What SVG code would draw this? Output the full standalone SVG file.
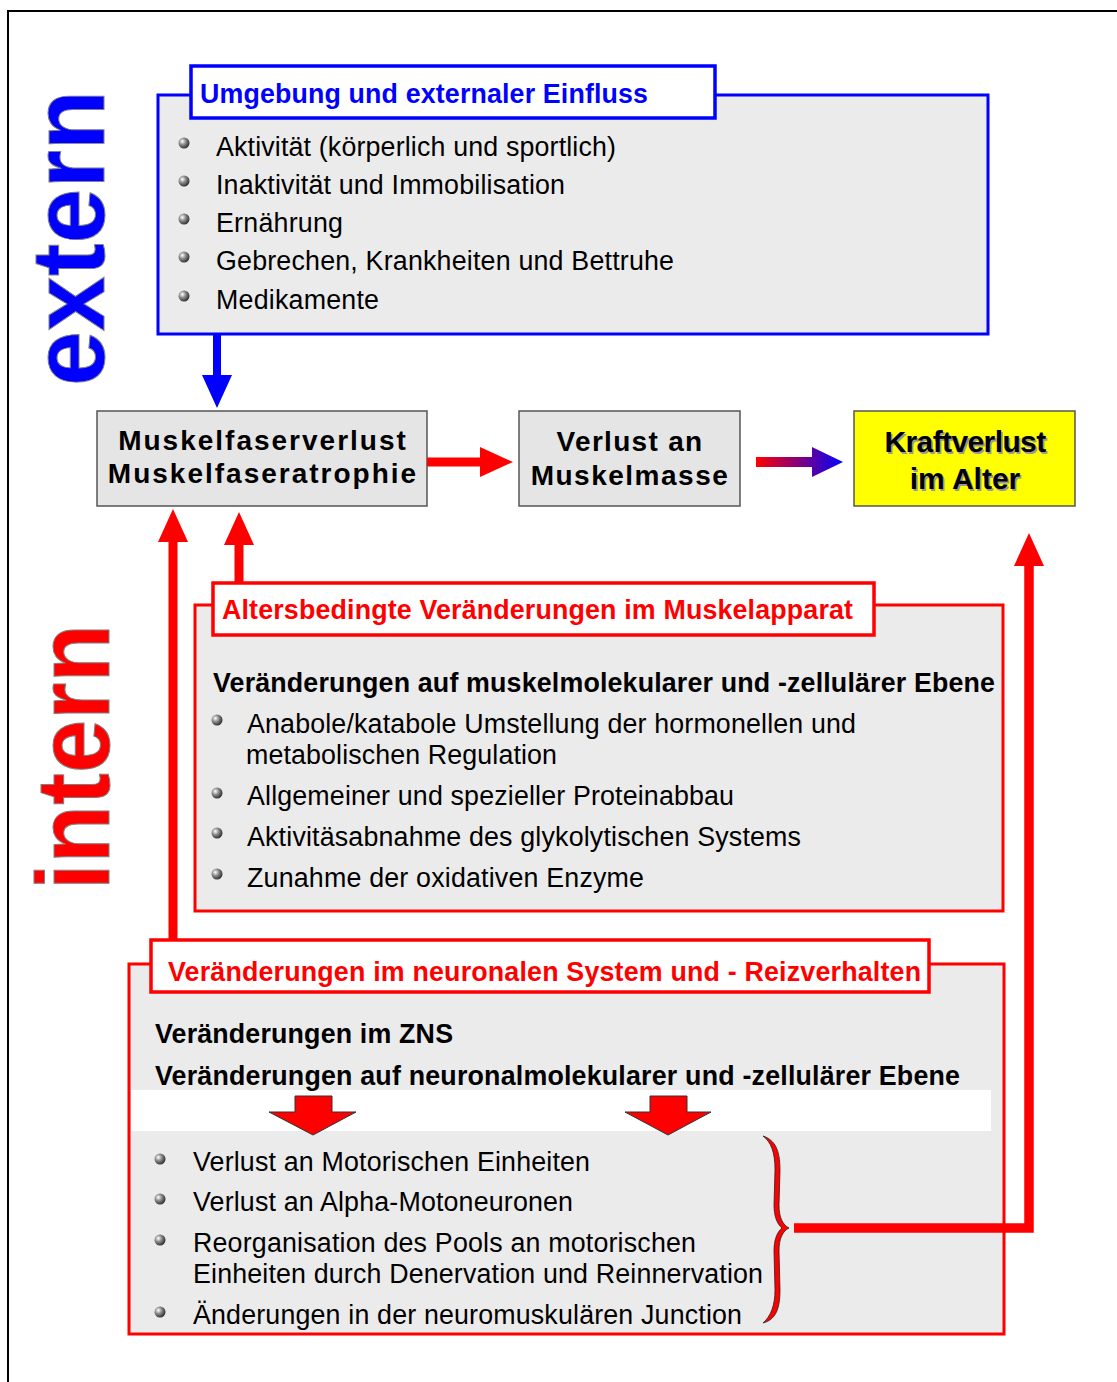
<svg xmlns="http://www.w3.org/2000/svg" width="1117" height="1382" viewBox="0 0 1117 1382">
  <defs>
    <style>
      text { font-family: "Liberation Sans", Arial, sans-serif; }
      .item { font-size: 26.8px; fill: #000; }
      .head { font-size: 26.8px; font-weight: bold; fill: #000; }
      .ttl-b { font-size: 26.8px; font-weight: bold; fill: #0000ff; }
      .ttl-r { font-size: 26.8px; font-weight: bold; fill: #ff0000; }
      .node { font-size: 28px; font-weight: bold; fill: #000; text-anchor: middle; }
      .panel { fill: #ebebeb; stroke-width: 3; }
      .tab { fill: #ffffff; stroke-width: 3.5; }
      .blue { stroke: #0000ff; }
      .red { stroke: #ff0000; }
      .box { fill: #e5e5e5; stroke: #555; stroke-width: 1.5; }
      .big { font-size: 104px; font-weight: bold; stroke: #808080; stroke-width: 1; }
    </style>
    <radialGradient id="ball" cx="0.35" cy="0.35" r="0.7">
      <stop offset="0" stop-color="#ffffff"/>
      <stop offset="0.45" stop-color="#8a8a8a"/>
      <stop offset="1" stop-color="#2a2a2a"/>
    </radialGradient>
    <linearGradient id="redblue" gradientUnits="userSpaceOnUse" x1="756" y1="0" x2="843" y2="0">
      <stop offset="0" stop-color="#ff0000"/>
      <stop offset="1" stop-color="#0000ff"/>
    </linearGradient>
    <marker id="headR" markerUnits="userSpaceOnUse" viewBox="0 0 33 30" refX="0" refY="15" markerWidth="33" markerHeight="30" orient="auto">
      <path d="M0,0 L33,15 L0,30 Z" fill="#ff0000"/>
    </marker>
    <marker id="headB" markerUnits="userSpaceOnUse" viewBox="0 0 33 30" refX="0" refY="15" markerWidth="33" markerHeight="30" orient="auto">
      <path d="M0,0 L33,15 L0,30 Z" fill="#0000ff"/>
    </marker>
    <circle id="dot" r="5.5" fill="url(#ball)"/>
  </defs>

  <rect width="1117" height="1382" fill="#ffffff"/>
  <!-- page frame -->
  <rect x="8" y="11" width="1200" height="1500" fill="none" stroke="#000" stroke-width="2"/>

  <!-- side labels -->
  <text class="big" fill="#0000ff" transform="translate(104,386) rotate(-90)" textLength="296" lengthAdjust="spacingAndGlyphs">extern</text>
  <text class="big" fill="#ff0000" transform="translate(109,890) rotate(-90)" textLength="266" lengthAdjust="spacingAndGlyphs">intern</text>

  <!-- external influences -->
  <g id="extern-panel">
    <rect class="panel blue" x="158" y="95" width="830" height="239"/>
    <rect class="tab blue" x="191" y="66" width="524" height="52"/>
    <text class="ttl-b" x="200" y="103" textLength="448">Umgebung und externaler Einfluss</text>
    <use href="#dot" x="184" y="143"/>
    <use href="#dot" x="184" y="181"/>
    <use href="#dot" x="184" y="219"/>
    <use href="#dot" x="184" y="257"/>
    <use href="#dot" x="184" y="296"/>
    <text class="item" x="216" y="156" textLength="400">Aktivität (körperlich und sportlich)</text>
    <text class="item" x="216" y="194" textLength="349">Inaktivität und Immobilisation</text>
    <text class="item" x="216" y="232" textLength="127">Ernährung</text>
    <text class="item" x="216" y="270" textLength="458">Gebrechen, Krankheiten und Bettruhe</text>
    <text class="item" x="216" y="309" textLength="163">Medikamente</text>
  </g>

  <!-- main chain -->
  <g id="fiber">
    <rect class="box" x="97" y="411" width="330" height="95"/>
    <text class="node" x="263" y="450" letter-spacing="2">Muskelfaserverlust</text>
    <text class="node" x="263" y="483" letter-spacing="2">Muskelfaseratrophie</text>
  </g>
  <g id="mass">
    <rect class="box" x="519" y="411" width="221" height="95"/>
    <text class="node" x="630" y="451" letter-spacing="1.3">Verlust an</text>
    <text class="node" x="630" y="485" letter-spacing="1.5">Muskelmasse</text>
  </g>
  <g id="strength">
    <rect x="854" y="411" width="221" height="95" fill="#ffff00" stroke="#555" stroke-width="1.5"/>
    <g font-size="30" font-weight="bold" text-anchor="middle">
      <text x="966.5" y="453.5" fill="#999" letter-spacing="-0.6">Kraftverlust</text>
      <text x="966.5" y="490.5" fill="#999">im Alter</text>
      <text x="965" y="452" fill="#000" letter-spacing="-0.6">Kraftverlust</text>
      <text x="965" y="489" fill="#000">im Alter</text>
    </g>
  </g>

  <!-- age-related muscular changes -->
  <g id="muscle-panel">
    <rect class="panel red" x="195" y="605" width="808" height="306"/>
    <rect class="tab red" x="213" y="583" width="661" height="52"/>
    <text class="ttl-r" x="222" y="619" textLength="631">Altersbedingte Veränderungen im Muskelapparat</text>
    <text class="head" x="213" y="692" textLength="782">Veränderungen auf muskelmolekularer und -zellulärer Ebene</text>
    <use href="#dot" x="217" y="720"/>
    <use href="#dot" x="217" y="793"/>
    <use href="#dot" x="217" y="833"/>
    <use href="#dot" x="217" y="874"/>
    <text class="item" x="247" y="733" textLength="609">Anabole/katabole Umstellung der hormonellen und</text>
    <text class="item" x="246" y="764" textLength="311">metabolischen Regulation</text>
    <text class="item" x="247" y="805" textLength="487">Allgemeiner und spezieller Proteinabbau</text>
    <text class="item" x="247" y="846" textLength="554">Aktivitäsabnahme des glykolytischen Systems</text>
    <text class="item" x="247" y="887" textLength="397">Zunahme der oxidativen Enzyme</text>
  </g>

  <!-- neural changes -->
  <g id="neural-panel">
    <rect class="panel red" x="129" y="964" width="875" height="370"/>
    <rect x="131" y="1090" width="860" height="41" fill="#ffffff"/>
    <rect class="tab red" x="151" y="940" width="778" height="52"/>
    <text class="ttl-r" x="168" y="981" textLength="753">Veränderungen im neuronalen System und - Reizverhalten</text>
    <text class="head" x="155" y="1043" textLength="298">Veränderungen im ZNS</text>
    <text class="head" x="155" y="1085" textLength="805">Veränderungen auf neuronalmolekularer und -zellulärer Ebene</text>
    <g fill="#ff0000" stroke="#333" stroke-width="1">
      <polygon points="295,1096 332,1096 332,1112 356,1112 313,1135 269,1112 295,1112"/>
      <polygon points="650,1096 687,1096 687,1112 711,1112 668,1135 625,1112 650,1112"/>
    </g>
    <use href="#dot" x="160" y="1159"/>
    <use href="#dot" x="160" y="1199"/>
    <use href="#dot" x="160" y="1240"/>
    <use href="#dot" x="160" y="1312"/>
    <text class="item" x="193" y="1171" textLength="397">Verlust an Motorischen Einheiten</text>
    <text class="item" x="193" y="1211" textLength="380">Verlust an Alpha-Motoneuronen</text>
    <text class="item" x="193" y="1252" textLength="503">Reorganisation des Pools an motorischen</text>
    <text class="item" x="193" y="1283" textLength="570">Einheiten durch Denervation und Reinnervation</text>
    <text class="item" x="193" y="1324" textLength="549">Änderungen in der neuromuskulären Junction</text>
    <!-- curly brace grouping the neural items -->
    <path d="M763,1136 C775,1140 780,1150 780,1170 L779,1205 C779,1218 783,1225 789,1228 C783,1231 779,1238 779,1251 L780,1290 C780,1310 775,1320 763,1323 C771,1316 775,1305 775,1290 L774,1251 C774,1240 777,1232 782,1228 C777,1224 774,1216 774,1205 L775,1170 C775,1152 771,1142 763,1136 Z" fill="#ff0000" stroke="#222" stroke-width="0.8"/>
  </g>

  <!-- connectors -->
  <g id="connectors" fill="none" stroke-linejoin="miter">
    <path d="M217,335 V375" stroke="#0000ff" stroke-width="8" marker-end="url(#headB)"/>
    <path d="M427,462 H480" stroke="#ff0000" stroke-width="9" marker-end="url(#headR)"/>
    <polygon points="756,457 812,457 812,447 843,462 812,477 812,467 756,467" fill="url(#redblue)"/>
    <path d="M173,940 V542" stroke="#ff0000" stroke-width="9" marker-end="url(#headR)"/>
    <path d="M239,582 V545" stroke="#ff0000" stroke-width="9" marker-end="url(#headR)"/>
    <path d="M794,1228 H1029 V566" stroke="#ff0000" stroke-width="9.5" marker-end="url(#headR)"/>
  </g>
</svg>
